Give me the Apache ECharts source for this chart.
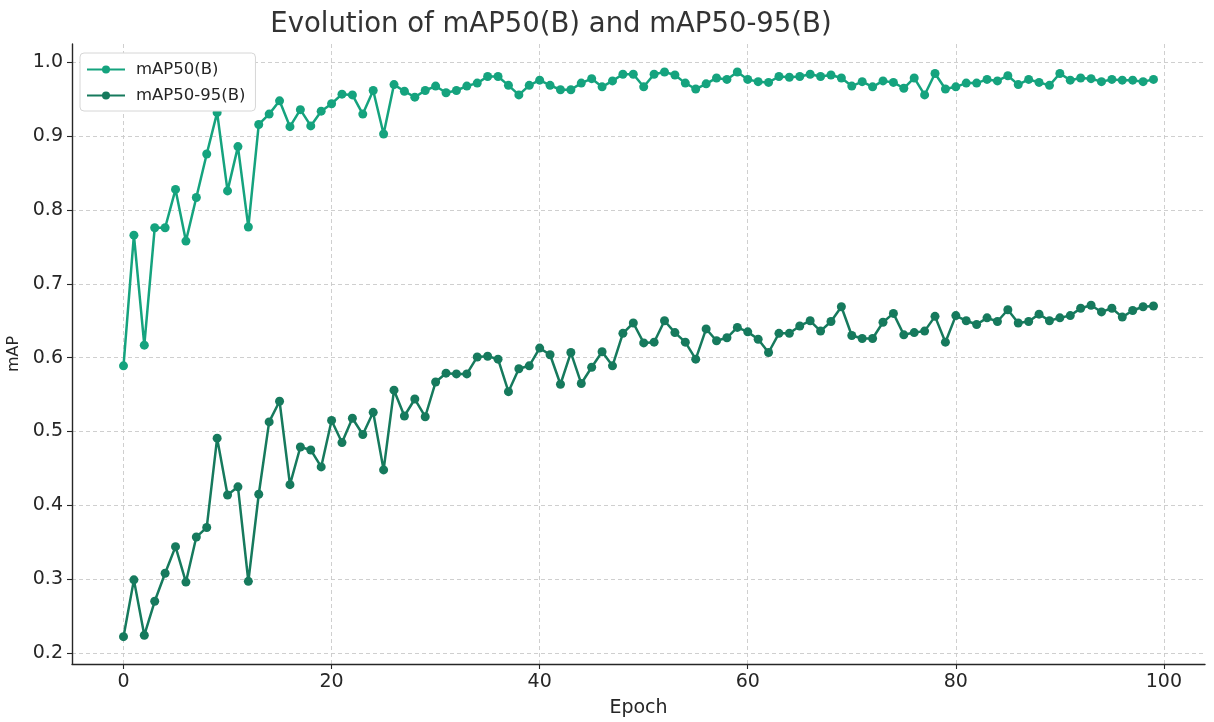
<!DOCTYPE html>
<html>
<head>
<meta charset="utf-8">
<title>Evolution of mAP50(B) and mAP50-95(B)</title>
<script src="https://cdn.jsdelivr.net/npm/echarts@6/dist/echarts.min.js"></script>
<style>
  html, body { margin: 0; padding: 0; background: #ffffff; }
  #chart { width: 1214px; height: 722px; }
</style>
</head>
<body>
<div id="chart"></div>
<script>
// Validation metrics per training epoch
const epochs = Array.from({ length: 100 }, (_, i) => i);

const map50 = [
  0.589, 0.766, 0.617, 0.776, 0.776, 0.828, 0.758, 0.817, 0.876, 0.932,
  0.826, 0.886, 0.777, 0.916, 0.930, 0.948, 0.913, 0.936, 0.914, 0.934,
  0.944, 0.957, 0.956, 0.930, 0.962, 0.903, 0.970, 0.961, 0.953, 0.962,
  0.968, 0.959, 0.962, 0.968, 0.972, 0.981, 0.981, 0.969, 0.956, 0.969,
  0.976, 0.969, 0.963, 0.963, 0.972, 0.978, 0.967, 0.975, 0.984, 0.984,
  0.967, 0.984, 0.987, 0.983, 0.972, 0.964, 0.971, 0.979, 0.977, 0.987,
  0.977, 0.974, 0.973, 0.981, 0.980, 0.981, 0.984, 0.981, 0.983, 0.979,
  0.968, 0.974, 0.967, 0.975, 0.973, 0.965, 0.979, 0.956, 0.985, 0.964,
  0.967, 0.972, 0.972, 0.977, 0.975, 0.982, 0.970, 0.977, 0.973, 0.969,
  0.985, 0.976, 0.979, 0.978, 0.974, 0.977, 0.976, 0.976, 0.974, 0.977
];

const map50_95 = [
  0.222, 0.299, 0.224, 0.270, 0.308, 0.344, 0.296, 0.357, 0.370, 0.491,
  0.414, 0.425, 0.297, 0.415, 0.513, 0.541, 0.428, 0.479, 0.475, 0.452,
  0.515, 0.485, 0.518, 0.496, 0.526, 0.448, 0.556, 0.521, 0.544, 0.520,
  0.567, 0.579, 0.578, 0.578, 0.601, 0.602, 0.598, 0.554, 0.585, 0.589,
  0.613, 0.604, 0.564, 0.607, 0.565, 0.587, 0.608, 0.589, 0.633, 0.647,
  0.620, 0.621, 0.650, 0.634, 0.621, 0.598, 0.639, 0.623, 0.627, 0.641,
  0.635, 0.625, 0.607, 0.633, 0.633, 0.643, 0.650, 0.636, 0.649, 0.669,
  0.630, 0.626, 0.626, 0.648, 0.660, 0.631, 0.634, 0.636, 0.656, 0.621,
  0.657, 0.650, 0.645, 0.654, 0.649, 0.665, 0.647, 0.649, 0.659, 0.650,
  0.654, 0.657, 0.667, 0.671, 0.662, 0.667, 0.655, 0.664, 0.669, 0.670
];

const xTicks = [0, 20, 40, 60, 80, 100];
const yTicks = [0.2, 0.3, 0.4, 0.5, 0.6, 0.7, 0.8, 0.9, 1.0];

const FONT = 'DejaVu Sans';
const C50 = '#15a37e';
const C5095 = '#167a5d';

const pairs = (ys) => epochs.map((x, i) => [x, ys[i]]);

const chart = echarts.init(document.getElementById('chart'), null, { renderer: 'canvas' });

const axisLine = { show: true, onZero: false, lineStyle: { color: '#262626', width: 1.4 } };
const tickStyle = { show: true, length: 5, lineStyle: { color: '#262626', width: 1.1 } };
const splitLine = { show: true, lineStyle: { color: '#cacaca', type: [4, 3], width: 0.9 } };

chart.setOption({
  animation: false,
  backgroundColor: '#ffffff',
  title: {
    text: 'Evolution of mAP50(B) and mAP50-95(B)',
    left: 546,
    top: 6,
    textAlign: 'center',
    textStyle: { fontFamily: FONT, fontSize: 27.5, fontWeight: 'normal', color: '#333333' }
  },
  legend: {
    orient: 'vertical',
    left: 80,
    top: 53,
    padding: [8, 10, 7, 6],
    itemGap: 9,
    itemWidth: 38,
    itemHeight: 10,
    backgroundColor: '#ffffff',
    borderColor: '#d6d6d6',
    borderWidth: 1,
    borderRadius: 4,
    textStyle: { fontFamily: FONT, fontSize: 16.5, color: '#262626', padding: [0, 0, 0, 6] },
    data: ['mAP50(B)', 'mAP50-95(B)']
  },
  grid: { left: 72, right: 9, top: 44, bottom: 58, containLabel: false, outerBoundsMode: 'none' },
  xAxis: {
    type: 'value',
    min: -4.95,
    max: 103.95,
    name: 'Epoch',
    nameLocation: 'middle',
    nameGap: 35,
    nameTextStyle: { fontFamily: FONT, fontSize: 19, color: '#262626' },
    axisLine: axisLine,
    axisTick: Object.assign({}, tickStyle, { customValues: xTicks }),
    splitLine: splitLine,
    axisLabel: {
      customValues: xTicks,
      fontFamily: FONT, fontSize: 19, color: '#262626', margin: 9
    }
  },
  yAxis: {
    type: 'value',
    min: 0.185,
    max: 1.025,
    name: 'mAP',
    nameLocation: 'middle',
    nameGap: 49,
    nameRotate: 90,
    nameTextStyle: { fontFamily: FONT, fontSize: 16, color: '#262626' },
    axisLine: axisLine,
    axisTick: Object.assign({}, tickStyle, { customValues: yTicks }),
    splitLine: splitLine,
    axisLabel: {
      customValues: yTicks,
      fontFamily: FONT, fontSize: 19, color: '#262626', margin: 9,
      formatter: (v) => v.toFixed(1)
    }
  },
  series: [
    {
      name: 'mAP50(B)',
      type: 'line',
      data: pairs(map50),
      color: C50,
      symbol: 'circle',
      symbolSize: 9,
      lineStyle: { width: 2.5, color: C50 },
      itemStyle: { color: C50 },
      z: 3
    },
    {
      name: 'mAP50-95(B)',
      type: 'line',
      data: pairs(map50_95),
      color: C5095,
      symbol: 'circle',
      symbolSize: 9,
      lineStyle: { width: 2.5, color: C5095 },
      itemStyle: { color: C5095 },
      z: 3
    }
  ]
});
</script>
</body>
</html>
